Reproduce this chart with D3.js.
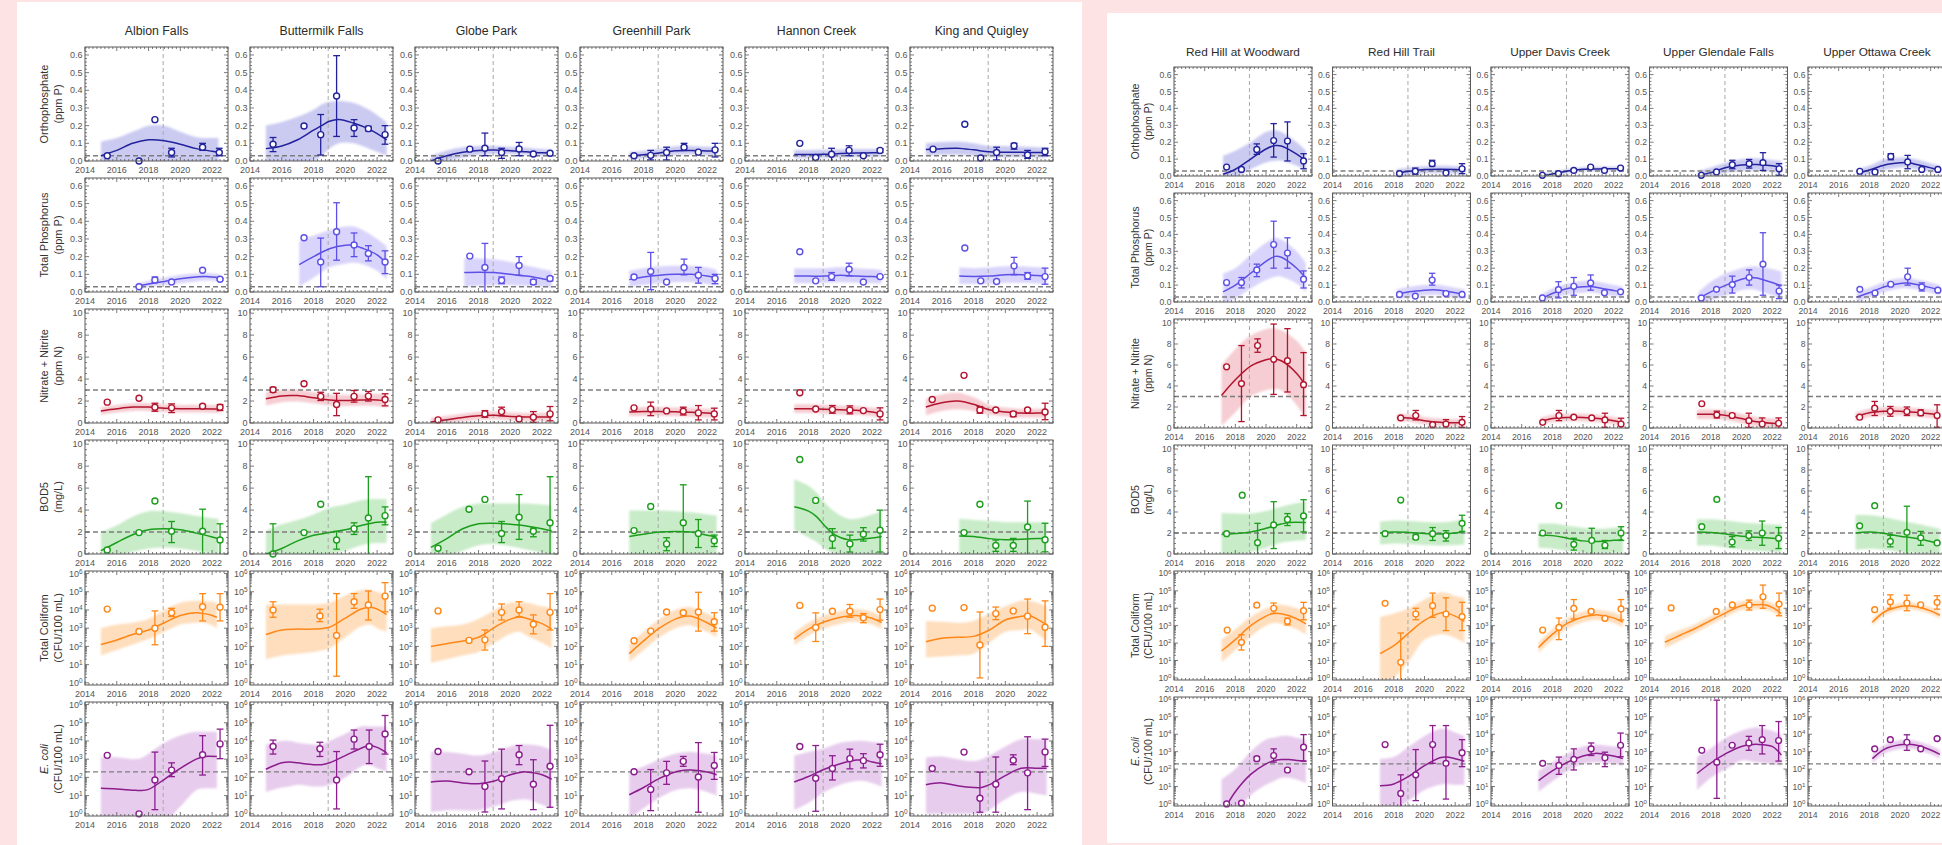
<!DOCTYPE html>
<html>
<head>
<meta charset="utf-8">
<script src="https://cdn.jsdelivr.net/npm/d3@7"></script>
<style>
  html, body { margin: 0; padding: 0; background: #fde3e3; }
  svg { display: block; }
  text { font-family: "Liberation Sans", Arial, sans-serif; }
</style>
</head>
<body>
<svg id="chart" width="1942" height="845"></svg>
<script>
// ---------------------------------------------------------------------------
// Sites, parameters and axis ticks
// ---------------------------------------------------------------------------
const leftSites = ["Albion Falls", "Buttermilk Falls", "Globe Park", "Greenhill Park", "Hannon Creek", "King and Quigley"];
const rightSites = ["Red Hill at Woodward", "Red Hill Trail", "Upper Davis Creek", "Upper Glendale Falls", "Upper Ottawa Creek"];

const paramNames = ["Orthophosphate", "Total Phosphorus", "Nitrate + Nitrite", "BOD5", "Total Coliform", "E. coli"];
const paramUnits = ["(ppm P)", "(ppm P)", "(ppm N)", "(mg/L)", "(CFU/100 mL)", "(CFU/100 mL)"];
// guideline / objective drawn as a dashed horizontal line (null = none)
const guideValues = [0.03, 0.03, 3, 2, null, 200];
const changeYear = 2018.92;

const yearTicks = [2014, 2016, 2018, 2020, 2022];
const phosTicks = [0, 0.1, 0.2, 0.3, 0.4, 0.5, 0.6];
const mgTicks = [0, 2, 4, 6, 8, 10];
const cfuTicks = [1, 10, 100, 1000, 10000, 100000, 1000000];

// ---------------------------------------------------------------------------
// Annual observations: [year, value] or [year, value, low, high]
// ---------------------------------------------------------------------------
const orthoObs = {
  "Albion Falls": [[2015.4,0.03],[2017.4,0.0],[2018.4,0.234],[2019.45,0.048,0.023,0.072],[2021.4,0.078,0.06,0.1],[2022.45,0.048,0.03,0.072]],
  "Buttermilk Falls": [[2015.45,0.095,0.053,0.133],[2017.4,0.198],[2018.45,0.149,0.034,0.263],[2019.45,0.368,0.139,0.596],[2020.55,0.187,0.139,0.234],[2021.45,0.183,0.17,0.196],[2022.5,0.149,0.095,0.2]],
  "Globe Park": [[2015.45,0.0],[2017.45,0.067],[2018.4,0.072,0.03,0.158],[2019.45,0.048,0.015,0.072],[2020.55,0.068,0.03,0.105],[2021.45,0.04],[2022.5,0.044]],
  "Greenhill Park": [[2017.4,0.03],[2018.45,0.032,0.006,0.06],[2019.45,0.048,0.006,0.078],[2020.55,0.078,0.06,0.1],[2021.45,0.05],[2022.5,0.063,0.023,0.1]],
  "Hannon Creek": [[2017.45,0.1],[2018.45,0.02],[2019.45,0.038,0.0,0.072],[2020.55,0.06,0.03,0.086],[2021.45,0.03],[2022.5,0.06,0.048,0.07]],
  "King and Quigley": [[2015.45,0.067],[2017.45,0.208],[2018.45,0.017],[2019.45,0.048,0.006,0.078],[2020.55,0.086,0.067,0.1],[2021.4,0.034,0.015,0.06],[2022.5,0.053,0.03,0.072]],
  "Red Hill at Woodward": [[2017.43,0.053],[2018.4,0.039,0.033,0.045],[2019.4,0.157,0.128,0.19],[2020.5,0.21,0.112,0.31],[2021.4,0.207,0.089,0.32],[2022.45,0.089,0.043,0.132]],
  "Red Hill Trail": [[2018.37,0.014],[2019.4,0.028,0.01,0.047],[2020.5,0.073,0.059,0.093],[2021.4,0.018],[2022.45,0.043,0.014,0.073]],
  "Upper Davis Creek": [[2017.35,0.004],[2018.4,0.014],[2019.4,0.033,0.028,0.038],[2020.5,0.053,0.047,0.058],[2021.4,0.033],[2022.45,0.047]],
  "Upper Glendale Falls": [[2017.38,0.004],[2018.37,0.024],[2019.4,0.067,0.043,0.093],[2020.5,0.073,0.047,0.098],[2021.4,0.079,0.033,0.138],[2022.45,0.043,0.004,0.073]],
  "Upper Ottawa Creek": [[2017.38,0.028],[2018.37,0.024],[2019.4,0.116,0.096,0.132],[2020.5,0.083,0.043,0.122],[2021.42,0.039],[2022.47,0.039]]
};

const tpObs = {
  "Albion Falls": [[2017.4,0.03],[2018.4,0.068,0.053,0.085],[2019.45,0.057],[2021.4,0.123,0.118,0.128],[2022.5,0.072,0.067,0.077]],
  "Buttermilk Falls": [[2017.4,0.307],[2018.45,0.17,0.03,0.305],[2019.45,0.341,0.18,0.505],[2020.55,0.266,0.2,0.334],[2021.45,0.218,0.176,0.262],[2022.5,0.17,0.104,0.233]],
  "Globe Park": [[2017.45,0.203],[2018.4,0.139,0.0,0.275],[2019.45,0.066,0.047,0.085],[2020.55,0.15,0.095,0.2],[2021.45,0.057,0.044,0.07],[2022.5,0.076,0.063,0.087]],
  "Greenhill Park": [[2017.4,0.085],[2018.45,0.116,0.013,0.224],[2019.45,0.057,0.052,0.062],[2020.55,0.139,0.097,0.186],[2021.45,0.095,0.05,0.139],[2022.5,0.076,0.047,0.1]],
  "Hannon Creek": [[2017.45,0.228],[2018.45,0.063],[2019.45,0.087,0.066,0.11],[2020.55,0.129,0.091,0.163],[2021.45,0.057],[2022.5,0.087,0.082,0.092]],
  "King and Quigley": [[2017.45,0.249],[2018.45,0.063,0.058,0.068],[2019.45,0.059,0.054,0.064],[2020.55,0.148,0.097,0.196],[2021.4,0.091,0.072,0.11],[2022.5,0.087,0.044,0.135]],
  "Red Hill at Woodward": [[2017.43,0.115],[2018.4,0.115,0.083,0.145],[2019.4,0.19,0.15,0.224],[2020.5,0.34,0.2,0.478],[2021.4,0.29,0.2,0.38],[2022.45,0.135,0.083,0.184]],
  "Red Hill Trail": [[2018.37,0.045],[2019.4,0.035],[2020.5,0.13,0.1,0.17],[2021.4,0.05,0.045,0.055],[2022.45,0.045]],
  "Upper Davis Creek": [[2017.35,0.024],[2018.4,0.073,0.024,0.12],[2019.4,0.093,0.04,0.145],[2020.5,0.113,0.07,0.16],[2021.4,0.055],[2022.45,0.06,0.055,0.065]],
  "Upper Glendale Falls": [[2017.38,0.024],[2018.37,0.075],[2019.4,0.103,0.053,0.153],[2020.5,0.145,0.1,0.19],[2021.4,0.224,0.04,0.41],[2022.45,0.065,0.02,0.1]],
  "Upper Ottawa Creek": [[2017.38,0.075],[2018.37,0.053],[2019.4,0.105,0.1,0.11],[2020.5,0.149,0.1,0.2],[2021.42,0.089,0.065,0.113],[2022.47,0.07,0.065,0.075]]
};

const nitrateObs = {
  "Albion Falls": [[2015.4,1.9],[2017.4,2.26],[2018.4,1.44,1.07,1.8],[2019.45,1.38,0.95,1.74],[2021.4,1.53,1.38,1.68],[2022.5,1.44,1.13,1.68]],
  "Buttermilk Falls": [[2015.45,3.03,2.8,3.25],[2017.4,3.58],[2018.45,2.42,2.05,2.8],[2019.45,1.68,0.67,2.7],[2020.55,2.42,1.9,2.96],[2021.45,2.45,2.0,2.87],[2022.5,2.14,1.56,2.66]],
  "Globe Park": [[2015.45,0.28],[2018.4,0.83,0.52,1.13],[2019.45,1.04,0.67,1.44],[2020.55,0.37],[2021.45,0.52,0.06,1.04],[2022.5,0.83,0.2,1.5]],
  "Greenhill Park": [[2017.4,1.38],[2018.45,1.28,0.67,1.9],[2019.45,1.1,1.0,1.2],[2020.5,1.07,0.73,1.44],[2021.45,0.92,0.28,1.59],[2022.45,0.83,0.28,1.35]],
  "Hannon Creek": [[2017.45,2.75],[2018.45,1.28],[2019.5,1.22,0.89,1.59],[2020.6,1.19,0.83,1.56],[2021.45,1.13,1.05,1.2],[2022.5,0.83,0.28,1.38]],
  "King and Quigley": [[2015.4,2.14],[2017.4,4.34],[2018.4,1.19,0.89,1.5],[2019.4,1.19,1.1,1.28],[2020.5,0.83,0.58,1.04],[2021.4,1.19,1.1,1.28],[2022.5,1.0,0.3,1.8]],
  "Red Hill at Woodward": [[2017.43,5.83],[2018.4,4.23,0.61,7.85],[2019.45,7.85,7.21,8.49],[2020.5,6.54,3.2,9.9],[2021.4,6.41,3.43,9.46],[2022.45,4.13,1.19,7.18]],
  "Red Hill Trail": [[2018.45,0.96,0.9,1.02],[2019.43,1.19,0.77,1.67],[2020.53,0.32],[2021.4,0.38,0.0,0.8],[2022.45,0.54,0.06,1.09]],
  "Upper Davis Creek": [[2017.37,0.54],[2018.43,1.19,0.7,1.67],[2019.4,1.03,0.97,1.09],[2020.57,0.96,0.9,1.02],[2021.43,0.77,0.06,1.41],[2022.48,0.38,0.0,0.93]],
  "Upper Glendale Falls": [[2017.41,2.31],[2018.39,1.25,0.96,1.6],[2019.39,1.19,1.0,1.38],[2020.48,0.7,0.06,1.41],[2021.35,0.38,0.0,0.96],[2022.42,0.45,0.0,0.96]],
  "Upper Ottawa Creek": [[2017.37,1.03],[2018.35,1.89,1.19,2.53],[2019.37,1.6,1.12,2.05],[2020.45,1.57,1.19,2.0],[2021.35,1.44,1.19,1.73],[2022.42,1.19,0.06,2.21]]
};

const bodObs = {
  "Albion Falls": [[2015.4,0.36],[2017.4,1.95],[2018.4,4.82],[2019.45,2.07,1.04,2.96],[2021.4,2.07,0,4.08],[2022.5,1.27,0,2.75]],
  "Buttermilk Falls": [[2015.45,0.0,0.0,2.75],[2017.4,1.95],[2018.45,4.53],[2019.45,1.27,0.44,2.07],[2020.55,2.31,1.78,2.84],[2021.45,3.28,0.0,7.04],[2022.5,3.49,2.66,4.29]],
  "Globe Park": [[2015.45,0.53],[2017.4,4.08],[2018.4,4.97],[2019.45,1.86,1.04,2.96],[2020.55,3.34,1.33,5.41],[2021.45,2.07,1.57,2.37],[2022.5,2.84,0,7.04]],
  "Greenhill Park": [[2017.4,2.13],[2018.45,4.32],[2019.45,0.92,0.3,1.48],[2020.5,2.84,0,6.3],[2021.45,1.86,0.59,3.14],[2022.45,1.21,0.68,1.72]],
  "Hannon Creek": [[2017.45,8.6],[2018.45,4.88],[2019.5,1.42,0.53,2.31],[2020.6,0.92,0.18,1.72],[2021.45,1.8,1.18,2.4],[2022.5,2.16,0.18,3.99]],
  "King and Quigley": [[2017.4,1.95],[2018.4,4.53],[2019.4,0.77,0.24,1.27],[2020.5,0.77,0.24,1.42],[2021.4,2.46,0,4.82],[2022.5,1.3,0.2,2.8]],
  "Red Hill at Woodward": [[2017.43,1.94],[2018.45,5.6],[2019.45,1.08,0,2.92],[2020.5,2.77,0.52,4.98],[2021.4,3.29,2.71,3.85],[2022.45,3.63,2.1,5.17]],
  "Red Hill Trail": [[2017.43,1.94],[2018.45,5.14],[2019.43,1.6,1.4,1.8],[2020.53,1.94,1.29,2.52],[2021.4,1.75,1.23,2.22],[2022.45,2.92,2.15,3.69]],
  "Upper Davis Creek": [[2017.37,2.0],[2018.43,4.6],[2019.4,0.92,0.37,1.5],[2020.57,1.29,0,2.45],[2021.43,0.83,0.52,1.29],[2022.48,2.0,1.29,2.6]],
  "Upper Glendale Falls": [[2017.41,2.6],[2018.39,5.2],[2019.39,1.14,0.68,1.66],[2020.48,1.75,1.29,2.2],[2021.35,2.0,0.83,3.14],[2022.42,1.51,0.52,2.52]],
  "Upper Ottawa Creek": [[2017.37,2.68],[2018.35,4.6],[2019.37,1.2,0.68,1.78],[2020.45,2.06,0,4.55],[2021.35,1.54,0.83,2.15],[2022.42,1.05,0.98,1.12]]
};

const coliformObs = {
  "Albion Falls": [[2015.4,11200],[2017.4,660],[2018.4,1000,123,8900],[2019.45,7100,4400,12300],[2021.4,15100,2500,79000],[2022.5,14100,2500,79000]],
  "Buttermilk Falls": [[2015.45,10000,3980,28200],[2018.4,4680,2290,11000],[2019.45,398,2.3,79400],[2020.55,28200,12300,79400],[2021.45,18600,2820,110000],[2022.5,57500,7940,316000]],
  "Globe Park": [[2015.45,8910],[2017.4,214],[2018.4,229,63,794],[2019.45,7410,2820,21400],[2020.55,10000,4370,28200],[2021.45,1660,490,5370],[2022.5,7410,794,79400]],
  "Greenhill Park": [[2017.4,204],[2018.45,692],[2019.45,7760,6610,8910],[2020.5,7080,6310,7940],[2021.45,7760,692,93300],[2022.45,2240,692,7080]],
  "Hannon Creek": [[2017.45,17800],[2018.45,1100,186,6920],[2019.5,8510,7590,9550],[2020.6,8510,3980,20000],[2021.45,3720,2000,6310],[2022.5,10500,2750,39800]],
  "King and Quigley": [[2015.4,12600],[2017.4,13500],[2018.4,120,1.86,7760],[2019.4,6310,2950,14500],[2020.5,8910,7940,10000],[2021.4,4570,501,39800],[2022.5,1120,100,31600]],
  "Red Hill at Woodward": [[2017.47,562],[2018.4,110,40,302],[2019.4,15100,13200,17400],[2020.5,10000,5010,20000],[2021.4,1780,1100,2750],[2022.45,7240,2190,21900]],
  "Red Hill Trail": [[2017.43,19100],[2018.45,7.9,0.8,380],[2019.43,4680,2190,10000],[2020.53,14100,3020,74100],[2021.4,4680,525,39800],[2022.45,3310,525,21900]],
  "Upper Davis Creek": [[2017.37,562],[2018.43,794,158,2750],[2019.4,9770,2400,31600],[2020.53,6610,5890,7410],[2021.43,2630,2340,2950],[2022.48,9120,2140,31600]],
  "Upper Glendale Falls": [[2015.41,10500],[2018.35,6610,6030,7240],[2019.4,15500,13200,17800],[2020.5,15500,7940,29500],[2021.4,45700,10000,214000],[2022.45,17400,3720,74100]],
  "Upper Ottawa Creek": [[2018.35,8320,7410,9330],[2019.37,23400,9770,58900],[2020.45,20000,7240,56200],[2021.35,15800,14100,17800],[2022.42,21900,8910,52500]]
};

const ecoliObs = {
  "Albion Falls": [[2015.4,1620],[2017.4,1],[2018.4,72,1.7,2450],[2019.45,251,110,631],[2021.4,1740,135,19500],[2022.5,6920,1070,44700]],
  "Buttermilk Falls": [[2015.45,5010,1910,11200],[2018.4,3720,1410,8510],[2019.45,72,1.86,2630],[2020.55,12600,3630,39800],[2021.5,5010,575,39800],[2022.5,24000,1910,251000]],
  "Globe Park": [[2015.45,2630],[2017.4,204],[2018.4,32,1.26,794],[2019.45,85,1.86,3550],[2020.55,1740,501,5620],[2021.45,42,1.7,933],[2022.5,407,2.29,72400]],
  "Greenhill Park": [[2017.4,204],[2018.45,22,1.5,269],[2019.45,178,41.7,759],[2020.5,759,407,1410],[2021.45,105,1.23,8130],[2022.45,447,78,2340]],
  "Hannon Creek": [[2017.45,5010],[2018.45,89,1.38,5620],[2019.5,309,72,1550],[2020.6,1070,295,3550],[2021.45,832,331,2000],[2022.5,1740,407,6610]],
  "King and Quigley": [[2015.4,309],[2017.4,2450],[2018.4,7.1,1.23,195],[2019.4,42,1.23,1320],[2020.5,871,501,1740],[2021.4,178,1.7,17000],[2022.5,2510,398,12600]],
  "Red Hill at Woodward": [[2017.43,1],[2018.4,1.1],[2019.4,398,302,525],[2020.5,603,251,1450],[2021.4,89,72,110],[2022.45,1820,288,9550]],
  "Red Hill Trail": [[2017.43,2570],[2018.45,4,0.32,46.8],[2019.43,46.8,1.55,1320],[2020.53,2570,214,31600],[2021.4,214,1.9,31600],[2022.45,871,138,4900]],
  "Upper Davis Creek": [[2017.37,214],[2018.43,162,50,490],[2019.4,363,89,1450],[2020.53,1450,603,3160],[2021.43,447,138,933],[2022.45,2340,513,11700]],
  "Upper Glendale Falls": [[2017.41,1200],[2018.39,251,2.09,912000],[2019.39,2340,2140,2570],[2020.48,3160,1200,7590],[2021.35,4900,741,31600],[2022.42,4370,288,53700]],
  "Upper Ottawa Creek": [[2018.35,1450,1320,1580],[2019.37,4900],[2020.45,3470,1200,9330],[2021.35,1450],[2022.42,5620,5010,6310]]
};

// ---------------------------------------------------------------------------
// Fitted trend with its confidence band: [year, fit, low, high]
// ---------------------------------------------------------------------------
const orthoTrend = {
  "Albion Falls": [[2015,0.03,-0.02,0.11],[2016,0.06,-0.02,0.13],[2017,0.1,-0.02,0.165],[2018,0.12,-0.02,0.2],[2019,0.115,-0.02,0.2],[2020,0.095,-0.02,0.165],[2021,0.07,-0.02,0.135],[2022,0.055,-0.02,0.13],[2022.4,0.05,-0.02,0.13]],
  "Buttermilk Falls": [[2015,0.07,-0.02,0.2],[2016,0.085,-0.02,0.22],[2017,0.12,-0.02,0.25],[2018,0.175,0.0,0.29],[2018.5,0.2,0.03,0.32],[2019,0.225,0.07,0.335],[2019.6,0.235,0.1,0.34],[2020.5,0.215,0.1,0.33],[2021.5,0.18,0.07,0.29],[2022.6,0.12,0.03,0.22]],
  "Globe Park": [[2015,0.0,-0.02,0.03],[2016,0.03,0.0,0.06],[2017,0.05,0.02,0.078],[2018,0.06,0.035,0.085],[2019,0.062,0.04,0.085],[2020,0.058,0.04,0.08],[2021,0.052,0.035,0.075],[2022,0.046,0.03,0.068],[2022.6,0.045,0.028,0.065]],
  "Greenhill Park": [[2017.1,0.03,0.01,0.05],[2018,0.035,0.015,0.058],[2019,0.045,0.025,0.07],[2020,0.058,0.035,0.083],[2021,0.06,0.038,0.085],[2022,0.057,0.033,0.08],[2022.6,0.055,0.03,0.078]],
  "Hannon Creek": [[2017.1,0.037,0.015,0.062],[2018,0.037,0.015,0.062],[2019,0.038,0.017,0.063],[2020,0.042,0.02,0.066],[2021,0.045,0.023,0.068],[2022,0.046,0.024,0.068],[2022.6,0.047,0.025,0.07]],
  "King and Quigley": [[2015,0.065,0.03,0.1],[2016,0.07,0.035,0.107],[2017,0.072,0.035,0.11],[2018,0.063,0.03,0.1],[2019,0.052,0.022,0.085],[2020,0.05,0.022,0.085],[2021,0.05,0.022,0.082],[2022,0.048,0.02,0.078],[2022.6,0.047,0.02,0.075]],
  "Red Hill at Woodward": [[2017.2,0.01,-0.02,0.12],[2018,0.04,-0.01,0.15],[2019,0.1,0.04,0.2],[2020,0.16,0.08,0.26],[2020.6,0.18,0.09,0.27],[2021,0.178,0.09,0.26],[2022,0.13,0.06,0.2],[2022.6,0.09,0.03,0.15]],
  "Red Hill Trail": [[2018.2,0.018,0.0,0.04],[2019,0.028,0.008,0.05],[2020,0.038,0.016,0.058],[2021,0.04,0.018,0.06],[2022,0.038,0.016,0.058],[2022.6,0.035,0.013,0.056]],
  "Upper Davis Creek": [[2017.2,0.0,-0.012,0.012],[2018,0.012,0.0,0.024],[2019,0.03,0.018,0.042],[2020,0.04,0.028,0.052],[2021,0.042,0.03,0.054],[2022,0.043,0.031,0.055],[2022.6,0.044,0.032,0.056]],
  "Upper Glendale Falls": [[2017.2,0.005,-0.02,0.03],[2018,0.02,-0.01,0.05],[2019,0.05,0.02,0.08],[2020,0.065,0.03,0.1],[2021,0.068,0.032,0.105],[2022,0.06,0.025,0.095],[2022.6,0.05,0.012,0.09]],
  "Upper Ottawa Creek": [[2017.2,0.015,-0.01,0.04],[2018,0.035,0.01,0.06],[2019,0.065,0.035,0.1],[2020,0.078,0.05,0.11],[2020.5,0.08,0.05,0.11],[2021,0.07,0.04,0.1],[2022,0.048,0.025,0.075],[2022.6,0.035,0.015,0.06]]
};

const tpTrend = {
  "Albion Falls": [[2017.2,0.03,0.015,0.045],[2018,0.045,0.027,0.063],[2019,0.06,0.04,0.08],[2020,0.075,0.05,0.097],[2021,0.085,0.06,0.105],[2021.6,0.088,0.065,0.108],[2022.5,0.08,0.06,0.1]],
  "Buttermilk Falls": [[2017.1,0.155,0.03,0.29],[2018,0.2,0.08,0.32],[2019,0.245,0.14,0.35],[2020,0.265,0.16,0.37],[2020.5,0.265,0.165,0.37],[2021,0.25,0.16,0.355],[2022,0.21,0.12,0.3],[2022.6,0.16,0.07,0.26]],
  "Globe Park": [[2017.1,0.11,0.03,0.19],[2018,0.112,0.035,0.19],[2019,0.11,0.04,0.185],[2020,0.1,0.04,0.17],[2021,0.09,0.035,0.15],[2022,0.075,0.03,0.13],[2022.6,0.065,0.025,0.12]],
  "Greenhill Park": [[2017.1,0.07,0.03,0.12],[2018,0.085,0.04,0.135],[2019,0.095,0.05,0.145],[2020,0.1,0.055,0.148],[2021,0.1,0.055,0.148],[2022,0.09,0.045,0.138],[2022.6,0.08,0.038,0.125]],
  "Hannon Creek": [[2017.1,0.09,0.05,0.135],[2018,0.09,0.05,0.135],[2019,0.09,0.052,0.135],[2020,0.095,0.055,0.14],[2021,0.09,0.052,0.135],[2022,0.087,0.05,0.13],[2022.6,0.085,0.048,0.125]],
  "King and Quigley": [[2017.1,0.09,0.045,0.14],[2018,0.088,0.045,0.135],[2019,0.09,0.047,0.138],[2020,0.098,0.052,0.145],[2021,0.098,0.052,0.145],[2022,0.093,0.048,0.14],[2022.6,0.09,0.045,0.138]],
  "Red Hill at Woodward": [[2017.2,0.06,-0.01,0.17],[2018,0.1,0.02,0.2],[2019,0.17,0.08,0.28],[2020,0.24,0.13,0.35],[2020.6,0.27,0.15,0.38],[2021,0.265,0.15,0.37],[2022,0.2,0.11,0.3],[2022.6,0.14,0.06,0.23]],
  "Red Hill Trail": [[2018.2,0.045,0.015,0.075],[2019,0.06,0.03,0.09],[2020,0.07,0.04,0.1],[2020.6,0.073,0.043,0.103],[2021,0.07,0.04,0.1],[2022,0.055,0.025,0.085],[2022.6,0.045,0.015,0.075]],
  "Upper Davis Creek": [[2017.2,0.015,-0.01,0.04],[2018,0.05,0.02,0.08],[2019,0.08,0.045,0.11],[2020,0.09,0.055,0.125],[2020.5,0.092,0.057,0.125],[2021,0.085,0.05,0.12],[2022,0.068,0.035,0.1],[2022.6,0.058,0.03,0.09]],
  "Upper Glendale Falls": [[2017.2,0.02,-0.02,0.06],[2018,0.06,0.01,0.12],[2019,0.1,0.04,0.17],[2020,0.135,0.07,0.2],[2020.6,0.145,0.075,0.21],[2021,0.142,0.07,0.21],[2022,0.115,0.04,0.195],[2022.6,0.095,0.02,0.18]],
  "Upper Ottawa Creek": [[2017.2,0.03,0.0,0.06],[2018,0.055,0.025,0.085],[2019,0.09,0.06,0.12],[2020,0.11,0.08,0.14],[2020.5,0.112,0.082,0.142],[2021,0.105,0.075,0.135],[2022,0.085,0.055,0.115],[2022.6,0.07,0.04,0.1]]
};

const nitrateTrend = {
  "Albion Falls": [[2015,1.1,0.75,1.45],[2016,1.3,0.95,1.65],[2017,1.45,1.1,1.8],[2018,1.45,1.1,1.8],[2019,1.35,1.0,1.7],[2020,1.3,0.95,1.65],[2021,1.3,0.95,1.65],[2022,1.28,0.93,1.63],[2022.5,1.27,0.92,1.62]],
  "Buttermilk Falls": [[2015,2.2,1.6,2.8],[2016,2.45,1.9,3.0],[2016.6,2.5,1.95,3.05],[2017,2.5,1.95,3.05],[2018,2.3,1.8,2.8],[2019,2.1,1.6,2.6],[2020,2.05,1.55,2.55],[2021,2.1,1.6,2.6],[2022,2.1,1.55,2.65],[2022.6,2.0,1.4,2.6]],
  "Globe Park": [[2015,0.1,-0.25,0.45],[2016,0.3,-0.05,0.65],[2017,0.5,0.15,0.85],[2018,0.65,0.3,1.0],[2019,0.7,0.35,1.05],[2020,0.6,0.25,0.95],[2021,0.55,0.2,0.9],[2022,0.55,0.2,0.9],[2022.6,0.55,0.15,0.95]],
  "Greenhill Park": [[2017.1,1.0,0.6,1.4],[2018,1.05,0.65,1.45],[2019,1.05,0.65,1.45],[2020,1.02,0.62,1.42],[2021,0.98,0.58,1.38],[2022,0.9,0.5,1.3],[2022.6,0.85,0.43,1.27]],
  "Hannon Creek": [[2017.1,1.3,0.9,1.7],[2018,1.3,0.9,1.7],[2019,1.25,0.85,1.65],[2020,1.2,0.8,1.6],[2021,1.15,0.75,1.55],[2022,1.0,0.6,1.4],[2022.6,0.85,0.4,1.3]],
  "King and Quigley": [[2015,1.45,0.7,2.2],[2016,1.85,1.1,2.6],[2017,2.0,1.25,2.75],[2018,1.7,1.1,2.35],[2019,1.2,0.75,1.65],[2020,1.0,0.6,1.4],[2021,0.9,0.5,1.3],[2022,0.9,0.5,1.3],[2022.6,0.9,0.45,1.35]],
  "Red Hill at Woodward": [[2017.1,3.1,0.2,6.0],[2018,4.6,1.5,7.5],[2019,5.9,3.0,8.8],[2020,6.5,3.6,9.4],[2020.4,6.6,3.7,9.5],[2021,6.4,3.6,9.3],[2022,5.2,2.2,8.3],[2022.6,4.0,0.8,7.2]],
  "Red Hill Trail": [[2018.2,0.95,0.6,1.3],[2019,0.95,0.6,1.3],[2020,0.7,0.35,1.05],[2021,0.55,0.2,0.9],[2022,0.5,0.15,0.85],[2022.6,0.5,0.15,0.85]],
  "Upper Davis Creek": [[2017.2,0.6,0.25,0.95],[2018,0.9,0.55,1.25],[2019,1.0,0.65,1.35],[2020,1.0,0.65,1.35],[2021,0.9,0.55,1.25],[2022,0.7,0.35,1.05],[2022.6,0.5,0.15,0.85]],
  "Upper Glendale Falls": [[2017.1,1.3,0.85,1.75],[2018,1.3,0.85,1.75],[2019,1.2,0.75,1.65],[2020,0.9,0.45,1.35],[2021,0.6,0.15,1.05],[2022,0.45,0.0,0.9],[2022.6,0.4,-0.05,0.85]],
  "Upper Ottawa Creek": [[2017.1,1.05,0.65,1.45],[2018,1.45,1.05,1.85],[2019,1.6,1.2,2.0],[2020,1.6,1.2,2.0],[2021,1.5,1.1,1.9],[2022,1.35,0.95,1.75],[2022.6,1.25,0.85,1.65]]
};

const bodTrend = {
  "Albion Falls": [[2015,0.3,-0.5,2.0],[2016,1.05,-0.3,2.6],[2017,1.75,0.2,3.4],[2018,2.2,0.5,3.9],[2019,2.3,0.6,3.9],[2020,2.2,0.5,3.7],[2021,1.9,0.3,3.45],[2022,1.55,0.0,3.25],[2022.4,1.4,-0.2,3.2]],
  "Buttermilk Falls": [[2015,0.0,-1.5,2.1],[2016,0.5,-1.0,2.7],[2017,1.2,-0.5,3.1],[2018,1.7,-0.2,3.6],[2019,1.95,0.0,4.2],[2020,2.2,0.3,4.5],[2021,2.6,0.8,4.9],[2022,2.9,1.0,5.0],[2022.6,2.9,1.0,5.0]],
  "Globe Park": [[2015,0.6,-1.0,2.8],[2016,1.4,-0.3,3.6],[2017,2.3,0.3,4.3],[2018,2.75,0.8,4.6],[2019,2.8,0.9,4.6],[2020,2.7,0.7,4.6],[2021,2.55,0.4,4.6],[2022,2.3,0.1,4.5],[2022.6,2.1,-0.2,4.4]],
  "Greenhill Park": [[2017.1,1.6,-0.5,3.95],[2018,1.8,-0.3,3.95],[2019,2.0,-0.1,3.95],[2020,2.05,0.0,3.9],[2021,2.0,-0.1,3.8],[2022,1.7,-0.3,3.6],[2022.6,1.55,-0.4,3.5]],
  "Hannon Creek": [[2017.1,4.3,2.2,6.8],[2018,3.9,1.5,6.2],[2018.5,3.4,1.1,5.6],[2019,2.6,0.5,4.7],[2019.5,1.9,0.1,4.0],[2020,1.5,-0.2,3.5],[2020.5,1.3,-0.3,3.2],[2021,1.3,-0.3,3.2],[2022,1.45,-0.3,3.6],[2022.6,1.6,-0.3,3.9]],
  "King and Quigley": [[2017.1,1.65,-0.2,3.2],[2018,1.6,-0.2,3.1],[2019,1.4,-0.2,3.0],[2020,1.3,-0.2,2.9],[2021,1.35,-0.2,2.9],[2022,1.4,-0.2,2.9],[2022.6,1.4,-0.2,2.9]],
  "Red Hill at Woodward": [[2017.1,1.85,-0.2,3.9],[2018,1.95,-0.1,3.85],[2019,2.1,0.2,3.85],[2020,2.45,0.6,4.1],[2021,2.85,1.1,4.5],[2021.5,3.0,1.2,4.7],[2022.6,3.0,1.3,5.0]],
  "Red Hill Trail": [[2017.1,2.0,0.9,3.1],[2018,2.1,1.0,3.2],[2019,2.05,0.95,3.15],[2020,1.95,0.85,3.05],[2021,1.9,0.8,3.0],[2022,2.0,0.85,3.15],[2022.6,2.15,0.9,3.4]],
  "Upper Davis Creek": [[2017.1,1.8,0.6,2.9],[2018,1.75,0.5,2.9],[2019,1.5,0.3,2.7],[2020,1.25,0.1,2.5],[2021,1.2,0.0,2.4],[2022,1.3,0.1,2.5],[2022.6,1.35,0.1,2.6]],
  "Upper Glendale Falls": [[2017.1,2.1,0.8,3.3],[2018,2.05,0.8,3.3],[2019,1.9,0.6,3.2],[2020,1.7,0.4,3.0],[2021,1.6,0.3,2.9],[2022,1.5,0.2,2.8],[2022.6,1.45,0.1,2.8]],
  "Upper Ottawa Creek": [[2017.1,2.0,0.4,3.7],[2018,2.1,0.5,3.7],[2019,1.95,0.4,3.5],[2020,1.7,0.2,3.2],[2021,1.5,0.1,2.9],[2022,1.2,-0.1,2.6],[2022.6,1.0,-0.3,2.4]]
};

const coliformTrend = {
  "Albion Falls": [[2015,126,32,1000],[2016,224,63,1580],[2017,447,126,2000],[2018,794,251,3160],[2019,2000,631,10000],[2020,5010,1580,25100],[2021,7080,2000,31600],[2021.5,6310,2000,31600],[2022,5010,1410,28200],[2022.3,3980,1000,25100]],
  "Buttermilk Falls": [[2015,447,20,20000],[2016,794,32,20000],[2017,891,40,20000],[2018,891,50,20000],[2019,1120,79,25100],[2020,3550,316,63100],[2021,11200,1260,126000],[2021.6,14100,1580,126000],[2022,11200,1000,100000],[2022.6,5620,631,63100]],
  "Globe Park": [[2015,100,12.6,1000],[2016,141,20,1260],[2017,200,32,1580],[2018,316,50,3160],[2019,1120,158,10000],[2020,3160,501,25100],[2020.6,4170,631,25100],[2021,3550,398,25100],[2022,1780,158,16000],[2022.6,891,79,12600]],
  "Greenhill Park": [[2017.1,40,14,126],[2018,200,63,631],[2019,1000,316,3160],[2020,3160,1000,10000],[2020.6,4470,1410,14100],[2021,4470,1410,14100],[2022,2000,631,6310],[2022.6,1000,316,3550]],
  "Hannon Creek": [[2017.1,251,112,562],[2018,891,398,2000],[2019,2240,1000,5010],[2020,3980,1780,8910],[2021,5010,2240,11200],[2022,3550,1580,7940],[2022.6,2000,891,4470]],
  "King and Quigley": [[2015,178,25,2510],[2016,282,28,2240],[2017,316,32,2000],[2018,355,40,2510],[2019,794,158,6310],[2020,2820,631,15800],[2021,4470,794,31600],[2021.5,5010,891,31600],[2022,3160,501,25100],[2022.6,1580,200,15800]],
  "Red Hill at Woodward": [[2017.1,35,8,158],[2018,158,40,631],[2019,1000,251,3160],[2020,3550,1000,10000],[2020.5,5010,1410,14100],[2021,4790,1260,15800],[2022,2510,631,10000],[2022.6,1260,316,6310]],
  "Red Hill Trail": [[2017.1,25,0.6,3160],[2018,71,1,5010],[2019,398,10,10000],[2020,2000,158,31600],[2021,5250,316,79400],[2021.3,5620,316,79400],[2022,3550,200,50100],[2022.6,1780,100,39800]],
  "Upper Davis Creek": [[2017.1,56,28,112],[2018,316,158,631],[2019,1410,708,2820],[2020,3160,1580,6310],[2020.8,4170,2090,8320],[2021,4170,2090,8320],[2022,2820,1410,5620],[2022.6,1580,794,3160]],
  "Upper Glendale Falls": [[2015,112,50,251],[2016,282,141,562],[2017,708,398,1260],[2018,2000,1120,3550],[2019,5620,3160,10000],[2020,14100,7940,25100],[2021,15800,8910,28200],[2021.5,15800,8910,28200],[2022,11200,6310,20000],[2022.6,5010,2820,8910]],
  "Upper Ottawa Creek": [[2018.2,1580,1000,2510],[2019,6310,3980,10000],[2020,12600,7940,20000],[2020.5,14100,8910,22400],[2021,12600,7940,20000],[2022,7080,4470,11200],[2022.6,3980,2510,6310]]
};

const ecoliTrend = {
  "Albion Falls": [[2015,25,0.1,1260],[2016,23,0.1,1260],[2017,20,0.1,1000],[2017.5,19,0.1,1120],[2018,22,0.1,2000],[2019,79,0.3,7940],[2020,316,2.5,20000],[2021,1000,20,31600],[2021.5,1410,25,31600],[2022.3,1410,25,31600]],
  "Buttermilk Falls": [[2015,282,15.8,6310],[2016,631,28,10000],[2016.5,708,32,10000],[2017,631,40,7940],[2018,501,32,6310],[2018.5,501,32,6310],[2019,631,40,10000],[2020,1580,100,25100],[2021,3980,398,63100],[2021.5,5620,500,63100],[2022,4470,316,63100],[2022.6,2240,200,63100]],
  "Globe Park": [[2015,56,1.26,2510],[2016,63,1.58,2510],[2017,50,1.58,2000],[2018,45,1.58,1580],[2019,63,2.5,2510],[2020,141,5,5010],[2020.8,200,6.3,6310],[2021,200,6.3,6310],[2022,141,3.2,5010],[2022.6,79,2,3160]],
  "Greenhill Park": [[2017.1,11.2,0.5,200],[2018,28,2,398],[2019,89,7.9,1000],[2020,200,20,2000],[2020.8,251,25,2510],[2021,251,25,2510],[2022,200,16,2000],[2022.6,141,10,1580]],
  "Hannon Creek": [[2017.1,56,1.6,1580],[2018,112,4,2510],[2019,282,16,3980],[2020,562,40,7940],[2021,891,63,10000],[2021.5,891,63,10000],[2022,708,50,8910],[2022.6,562,32,7940]],
  "King and Quigley": [[2015,40,1,1260],[2016,50,1,1410],[2017,35,1,1000],[2018,28,1,794],[2018.5,28,1,1000],[2019,40,1.6,1580],[2020,126,6.3,5010],[2021,316,15.8,12600],[2022,316,12.6,12600],[2022.6,316,10,12600]],
  "Red Hill at Woodward": [[2017.1,0.25,0.01,25],[2018,5,0.25,100],[2019,50,3.2,1000],[2020,200,12.6,5010],[2020.5,302,20,6310],[2021,355,32,7940],[2021.5,355,32,7940],[2022,316,25,6310],[2022.6,282,16,5010]],
  "Red Hill Trail": [[2017.1,11.2,0.32,398],[2018,14.1,0.5,501],[2019,40,1.58,2000],[2020,158,6.3,7940],[2021,447,12.6,20000],[2021.4,501,14.1,20000],[2022,398,12.6,12600],[2022.6,282,12.6,7940]],
  "Upper Davis Creek": [[2017.1,22,5,79],[2018,79,20,251],[2019,251,79,794],[2020,562,200,2000],[2020.8,794,251,2510],[2021,794,251,2510],[2022,562,200,2000],[2022.6,398,158,2000]],
  "Upper Glendale Falls": [[2017.1,56,6.3,501],[2018,224,32,1580],[2019,794,100,6310],[2020,2000,316,15800],[2020.9,2630,251,25100],[2021,2630,251,25100],[2022,2000,200,15800],[2022.6,631,158,10000]],
  "Upper Ottawa Creek": [[2018.2,398,224,708],[2019,1410,794,2510],[2020,2510,1410,4470],[2020.5,2630,1480,4680],[2021,2400,1350,4270],[2022,1260,708,2240],[2022.6,708,398,1260]]
};

const obsByParam = [orthoObs, tpObs, nitrateObs, bodObs, coliformObs, ecoliObs];
const trendByParam = [orthoTrend, tpTrend, nitrateTrend, bodTrend, coliformTrend, ecoliTrend];

// ---------------------------------------------------------------------------
// Styling
// ---------------------------------------------------------------------------
const lineColors = ["#22229c", "#5d50e6", "#b3142e", "#1c9e1c", "#ff8717", "#8b1d8d"];
const bandColors = ["#cbcbf2", "#d9d4fb", "#f5cdd2", "#c8ebc8", "#fedebd", "#e7cced"];
const frameColor = "#5a5a5a";
const tickTextColor = "#555";

const panels = [
  { sites: leftSites, bg: [17, 2, 1065, 843], x0: 85, dx: 165, y0: 47, dy: 131, w: 143, h: 114,
    titleY: 35, tickFont: 9, titleFont: 12.3, rowFont: 11, r: 3.0, cap: 3.4, rowX: [-41, -27], major: 4, minor: 2 },
  { sites: rightSites, bg: [1107, 13, 835, 830], x0: 1174, dx: 158.5, y0: 67, dy: 126, w: 138, h: 109,
    titleY: 56, tickFont: 8.6, titleFont: 11.8, rowFont: 10.6, r: 2.9, cap: 3.2, rowX: [-39, -25.5], major: 4, minor: 2 }
];

// ---------------------------------------------------------------------------
// Drawing
// ---------------------------------------------------------------------------
const svg = d3.select("#chart");
svg.append("rect").attr("width", 1942).attr("height", 845).attr("fill", "#fde3e3");

const defs = svg.append("defs");
defs.append("filter").attr("id", "soft")
  .attr("x", "-10%").attr("y", "-20%").attr("width", "120%").attr("height", "140%")
  .append("feGaussianBlur").attr("stdDeviation", 1.3);

let clipCount = 0;

function yScaleFor(p, h) {
  if (p >= 4) return d3.scaleLog().domain([0.76, 1.38e6]).range([h, 0]);
  if (p <= 1) return d3.scaleLinear().domain([0, 0.645]).range([h, 0]);
  return d3.scaleLinear().domain([0, 10.38]).range([h, 0]);
}

function minorTicksFor(p) {
  if (p <= 1) return d3.range(0, 0.645, 0.02);
  if (p <= 3) return d3.range(0, 10.38, 0.5);
  const out = [];
  for (let k = 0; k < 6; k++) for (let m = 2; m <= 9; m++) out.push(m * Math.pow(10, k));
  return out;
}

function majorTicksFor(p) {
  if (p <= 1) return phosTicks;
  if (p <= 3) return mgTicks;
  return cfuTicks;
}

function drawCell(g, cfg, p, site) {
  const w = cfg.w, h = cfg.h;
  const x = d3.scaleLinear().domain([2014, 2023]).range([0, w]);
  const y = yScaleFor(p, h);
  const yc = y.copy().clamp(true);
  const color = lineColors[p];

  const clipId = "clip" + (clipCount++);
  defs.append("clipPath").attr("id", clipId)
    .append("rect").attr("x", 0).attr("y", 0).attr("width", w).attr("height", h);

  g.append("rect").attr("width", w).attr("height", h).attr("fill", "#fff");

  const inner = g.append("g").attr("clip-path", `url(#${clipId})`);
  const trend = trendByParam[p][site];
  const curve = d3.curveCatmullRom.alpha(0.5);

  // confidence band
  const area = d3.area().x(d => x(d[0])).y0(d => y(d[2])).y1(d => y(d[3])).curve(curve);
  inner.append("path").datum(trend).attr("d", area)
    .attr("fill", bandColors[p]).attr("filter", "url(#soft)");

  // reference lines
  inner.append("line").attr("x1", x(changeYear)).attr("x2", x(changeYear))
    .attr("y1", 0).attr("y2", h)
    .attr("stroke", "#a8a8a8").attr("stroke-width", 1).attr("stroke-dasharray", "4,3");
  if (guideValues[p] !== null) {
    inner.append("line").attr("x1", 0).attr("x2", w)
      .attr("y1", y(guideValues[p])).attr("y2", y(guideValues[p]))
      .attr("stroke", "#7d7d7d").attr("stroke-width", 1.4).attr("stroke-dasharray", "5,3");
  }

  // fitted trend
  const line = d3.line().x(d => x(d[0])).y(d => y(d[1])).curve(curve);
  inner.append("path").datum(trend).attr("d", line)
    .attr("fill", "none").attr("stroke", color).attr("stroke-width", 1.5);

  // observations with error bars
  const obs = obsByParam[p][site];
  const bars = g.append("g").attr("stroke", color).attr("stroke-width", 1.3).attr("fill", "none");
  obs.filter(d => d.length === 4).forEach(d => {
    const cx = x(d[0]);
    const yLo = yc(d[2]), yHi = yc(d[3]);
    bars.append("line").attr("x1", cx).attr("x2", cx).attr("y1", yLo).attr("y2", yHi);
    if (y(d[3]) >= 0) bars.append("line").attr("x1", cx - cfg.cap).attr("x2", cx + cfg.cap).attr("y1", yHi).attr("y2", yHi);
    if (y(d[2]) <= h - 0.5) bars.append("line").attr("x1", cx - cfg.cap).attr("x2", cx + cfg.cap).attr("y1", yLo).attr("y2", yLo);
  });
  g.append("g").selectAll("circle").data(obs).join("circle")
    .attr("cx", d => x(d[0])).attr("cy", d => yc(d[1])).attr("r", cfg.r)
    .attr("fill", "#fff").attr("stroke", color).attr("stroke-width", 1.4);

  // frame with inward ticks on all four sides
  const tk = [];
  const xMinor = d3.range(2014, 2023.01, 0.25);
  xMinor.forEach(v => {
    const len = yearTicks.includes(v) ? cfg.major : cfg.minor;
    const px = x(v);
    tk.push(`M${px},${h}v${-len}`, `M${px},0v${len}`);
  });
  const yMajor = majorTicksFor(p);
  yMajor.forEach(v => { const py = y(v); tk.push(`M0,${py}h${cfg.major}`, `M${w},${py}h${-cfg.major}`); });
  minorTicksFor(p).forEach(v => {
    if (yMajor.includes(v)) return;
    const py = y(v);
    if (py < 0 || py > h) return;
    tk.push(`M0,${py}h${cfg.minor}`, `M${w},${py}h${-cfg.minor}`);
  });
  g.append("path").attr("d", tk.join("")).attr("stroke", frameColor).attr("stroke-width", 0.8).attr("fill", "none");
  g.append("rect").attr("width", w).attr("height", h)
    .attr("fill", "none").attr("stroke", frameColor).attr("stroke-width", 1);

  // tick labels
  const lab = g.append("g").attr("fill", tickTextColor).attr("font-size", cfg.tickFont);
  yearTicks.forEach(v => {
    lab.append("text").attr("x", x(v)).attr("y", h + 11.5).attr("text-anchor", "middle").text(v);
  });
  yMajor.forEach(v => {
    const t = lab.append("text").attr("x", -2.5).attr("y", y(v)).attr("dy", "0.35em").attr("text-anchor", "end");
    if (p >= 4) {
      t.append("tspan").text("10");
      t.append("tspan").attr("font-size", cfg.tickFont * 0.72).attr("dy", "-0.45em").text(Math.round(Math.log10(v)));
    } else if (p <= 1) {
      t.text(d3.format(".1f")(v));
    } else {
      t.text(v);
    }
  });
}

panels.forEach(cfg => {
  svg.append("rect").attr("x", cfg.bg[0]).attr("y", cfg.bg[1])
    .attr("width", cfg.bg[2]).attr("height", cfg.bg[3]).attr("fill", "#fff");

  cfg.sites.forEach((site, c) => {
    const cx = cfg.x0 + c * cfg.dx;
    svg.append("text").attr("x", cx + cfg.w / 2).attr("y", cfg.titleY)
      .attr("text-anchor", "middle").attr("font-size", cfg.titleFont).attr("fill", "#2b2b2b")
      .text(site);
    paramNames.forEach((name, p) => {
      const g = svg.append("g").attr("transform", `translate(${cx},${cfg.y0 + p * cfg.dy})`);
      drawCell(g, cfg, p, site);
    });
  });

  // row labels
  paramNames.forEach((name, p) => {
    const cy = cfg.y0 + p * cfg.dy + cfg.h / 2;
    const lx1 = cfg.x0 + cfg.rowX[0], lx2 = cfg.x0 + cfg.rowX[1];
    const t1 = svg.append("text")
      .attr("transform", `translate(${lx1},${cy}) rotate(-90)`)
      .attr("text-anchor", "middle").attr("dy", "0.35em")
      .attr("font-size", cfg.rowFont).attr("fill", "#333");
    if (name === "E. coli") t1.attr("font-style", "italic");
    t1.text(name);
    svg.append("text")
      .attr("transform", `translate(${lx2},${cy}) rotate(-90)`)
      .attr("text-anchor", "middle").attr("dy", "0.35em")
      .attr("font-size", cfg.rowFont).attr("fill", "#333")
      .text(paramUnits[p]);
  });
});
</script>
</body>
</html>
